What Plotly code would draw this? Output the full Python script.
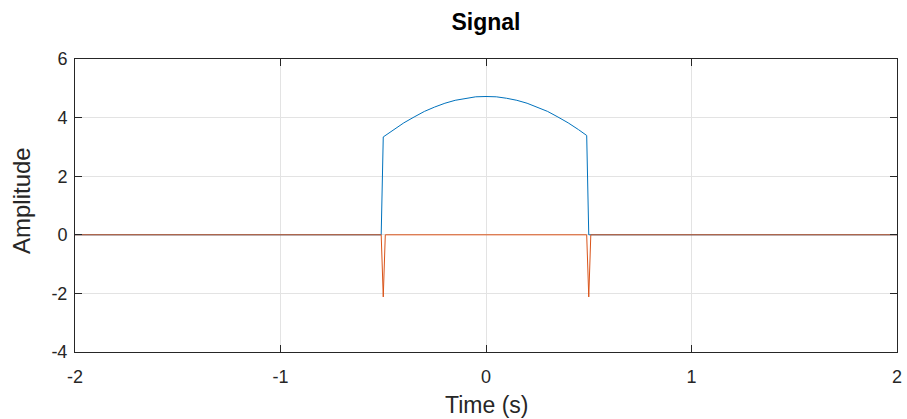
import plotly.graph_objects as go

# Blue signal
t_sig = [-2.0, -0.51, -0.50, -0.45, -0.40, -0.35, -0.30, -0.25, -0.20, -0.15, -0.10, -0.05,
         0.0, 0.05, 0.10, 0.15, 0.20, 0.25, 0.30, 0.35, 0.40, 0.45, 0.49, 0.50, 2.0]
y_sig = [0.0, 0.0, 3.34, 3.59, 3.82, 4.02, 4.21, 4.36, 4.49, 4.59, 4.66, 4.71,
         4.72, 4.71, 4.66, 4.59, 4.49, 4.36, 4.21, 4.02, 3.82, 3.59, 3.39, 0.0, 0.0]

# Orange signal
t_der = [-2.0, -0.51, -0.50, -0.49, 0.49, 0.50, 0.51, 2.0]
y_der = [0.0, 0.0, -2.12, 0.0, 0.0, -2.12, 0.0, 0.0]

x_ticks = [-2, -1, 0, 1, 2]
x_tick_text = ["-2", "-1", "0", "1", "2"]
y_ticks = [-4, -2, 0, 2, 4, 6]
y_tick_text = ["-4", "-2", "0", "2", "4", "6"]

fig = go.Figure()
fig.add_trace(go.Scatter(x=t_sig, y=y_sig, mode="lines",
                         line=dict(color="#0072BD", width=1), showlegend=False))
fig.add_trace(go.Scatter(x=t_der, y=y_der, mode="lines",
                         line=dict(color="#D95319", width=1), showlegend=False))

font_family = "Liberation Sans, Arial, sans-serif"
axis_common = dict(
    showline=True, linecolor="#262626", linewidth=1, mirror="ticks",
    ticks="inside", ticklen=7, tickcolor="#262626",
    showgrid=True, gridcolor="#e3e3e3", gridwidth=1, zeroline=False,
    automargin=False,
    tickfont=dict(family=font_family, size=18, color="#262626"),
)

L, R, T, B = 75, 10, 59, 67
W, H = 907, 419
pw, ph = W - L - R, H - T - B

fig.update_layout(
    width=W, height=H,
    margin=dict(l=L, r=R, t=T, b=B, autoexpand=False),
    paper_bgcolor="white", plot_bgcolor="white",
    title=dict(text="<b>Signal</b>", x=0.5, xref="paper", xanchor="center",
               y=1 - 22 / H, yref="container", yanchor="middle",
               font=dict(family=font_family, size=23, color="black")),
    xaxis=dict(range=[-2, 2], tickvals=x_ticks, ticktext=x_tick_text,
               ticklabelstandoff=8, **axis_common),
    yaxis=dict(range=[-4, 6], tickvals=y_ticks, ticktext=y_tick_text,
               ticklabelstandoff=3, **axis_common),
    annotations=[
        dict(text="Time (s)", xref="paper", yref="paper", x=0.5,
             y=-(405 - (T + ph)) / ph, xanchor="center", yanchor="middle",
             showarrow=False, font=dict(family=font_family, size=23, color="#262626")),
        dict(text="Amplitude", xref="paper", yref="paper", x=-(L - 21) / pw,
             y=((T + ph) - 201) / ph, xanchor="center", yanchor="middle", textangle=-90,
             showarrow=False, font=dict(family=font_family, size=24, color="#262626")),
    ],
)

fig.write_html("out.html", config={"displayModeBar": False},
               post_script="document.body.style.margin='0px';")
